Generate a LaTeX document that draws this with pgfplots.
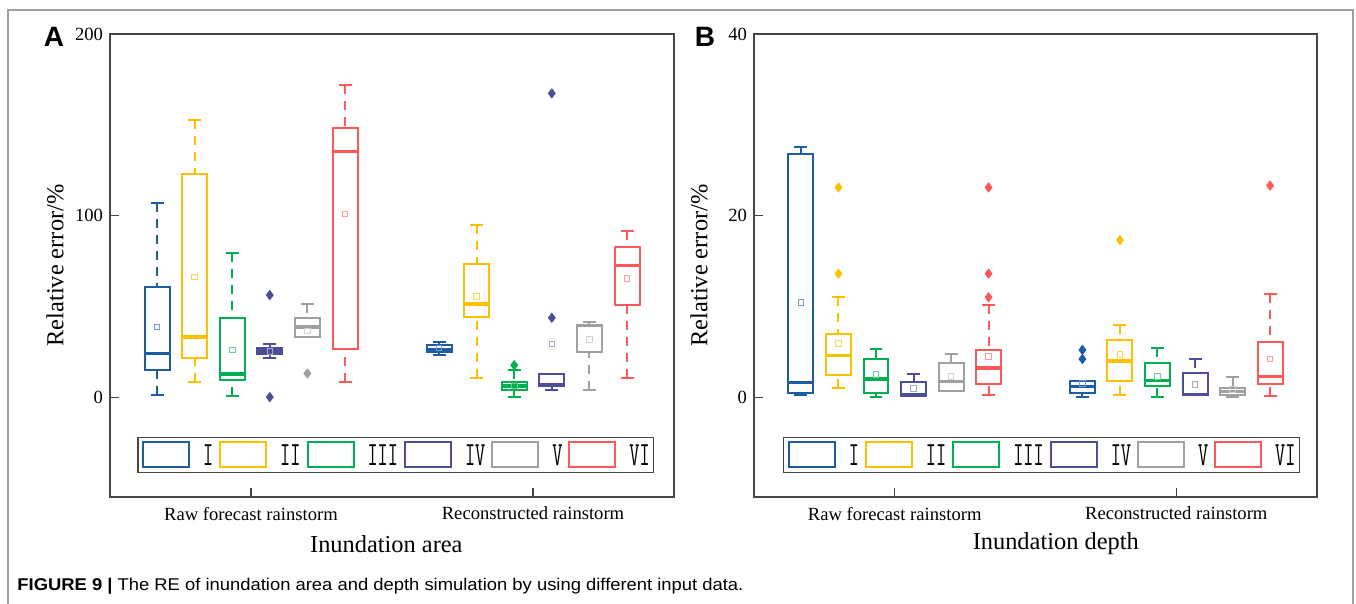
\documentclass[border=0pt]{standalone}
\usepackage{fontspec}
\setmainfont{Liberation Serif}
\setsansfont{Liberation Sans}
\usepackage{graphicx}
\usepackage{pgfplots}
\pgfplotsset{compat=1.18}
\usepgfplotslibrary{statistics}

\definecolor{cI}{RGB}{28,92,160}
\definecolor{cII}{RGB}{255,192,0}
\definecolor{cIII}{RGB}{0,176,80}
\definecolor{cIV}{RGB}{78,78,150}
\definecolor{cV}{RGB}{160,160,160}
\definecolor{cVI}{RGB}{255,88,88}
\definecolor{axgray}{RGB}{70,70,70}

% roman numerals of the legend: tall, narrow
\newcommand{\rn}[1]{\scalebox{0.58}[1]{\fontsize{17}{17}\selectfont\ttfamily #1}}

% one prepared box: position, colour, lower whisker, Q1, median, Q3, upper whisker
\newcommand{\bx}[7]{\addplot[#2, forget plot, boxplot prepared={draw position=#1,
  lower whisker=#3, lower quartile=#4, median=#5, upper quartile=#6, upper whisker=#7}]
  coordinates {};}

\pgfplotsset{
  myax/.style={
    scale only axis,
    xmin=0, xmax=564,
    xtick={141,423},
    xticklabels={Raw forecast rainstorm, Reconstructed rainstorm},
    xtick pos=bottom, ytick pos=left,
    minor tick num=0,
    tick align=inside,
    major tick length=4.5pt,
    axis line style={axgray, line width=0.8pt},
    tick style={axgray, line width=0.6pt},
    tick label style={font=\fontsize{9.3}{10}\selectfont},
    xticklabel style={yshift=-1.5pt},
    /pgf/number format/assume math mode=true,
    label style={font=\fontsize{12.2}{13}\selectfont},
    ylabel={Relative error/\%},
    ylabel style={at={(axis description cs:-0.0975,0.5)}, anchor=center},
    boxplot/draw direction=y,
    boxplot/box extend=25,
    boxplot/whisker extend=13,
    boxplot/every box/.style={line width=1pt, fill=none},
    boxplot/every whisker/.style={line width=1pt},
    boxplot/every median/.style={line width=1.7pt},
    boxplot/draw/lower whisker/.code={
      \draw[/pgfplots/boxplot/every whisker/.try, dash pattern=on 4.5pt off 3.5pt]
        (boxplot box cs:\pgfplotsboxplotvalue{lower whisker},0.5) --
        (boxplot box cs:\pgfplotsboxplotvalue{lower quartile},0.5);
      \draw[/pgfplots/boxplot/every whisker/.try]
        (boxplot whisker cs:\pgfplotsboxplotvalue{lower whisker},0) --
        (boxplot whisker cs:\pgfplotsboxplotvalue{lower whisker},1);
    },
    boxplot/draw/upper whisker/.code={
      \draw[/pgfplots/boxplot/every whisker/.try, dash pattern=on 4.5pt off 3.5pt]
        (boxplot box cs:\pgfplotsboxplotvalue{upper whisker},0.5) --
        (boxplot box cs:\pgfplotsboxplotvalue{upper quartile},0.5);
      \draw[/pgfplots/boxplot/every whisker/.try]
        (boxplot whisker cs:\pgfplotsboxplotvalue{upper whisker},0) --
        (boxplot whisker cs:\pgfplotsboxplotvalue{upper whisker},1);
    },
    legend image code/.code={\draw[##1, line width=1pt, solid, fill=none] (0pt,-1pt) rectangle (23pt,11.5pt);},
    legend columns=6,
    legend style={anchor=south, draw=axgray, line width=0.6pt, fill=white,
      inner xsep=2pt, inner ysep=2pt,
      nodes={inner sep=0pt, anchor=base},
      /tikz/every odd column/.append style={column sep=6.5pt},
      /tikz/every even column/.append style={column sep=3pt}},
  },
  mean/.style={only marks, mark=square, mark size=1.4pt, line width=0.5pt, forget plot},
  outl/.style={only marks, mark=diamond*, mark size=2.3pt, forget plot},
}

\begin{document}
\begin{tikzpicture}
\path[use as bounding box] (0pt,0pt) rectangle (678pt,302pt);
\draw[gray!75, line width=0.6pt] (4pt,0pt) -- (4pt,297pt) -- (676.5pt,297pt) -- (676.5pt,0pt);

% ---------------- panel A ----------------
\begin{axis}[myax, at={(55pt,53.5pt)}, anchor=south west, width=282pt, height=231.5pt,
  ymin=-55, ymax=200, ytick={0,100,200},
  xlabel={Inundation area},
  xlabel style={at={(axis description cs:0.49,-0.1015)}, anchor=center},
  legend style={at={(axis description cs:0.507,0.052)}}]
\addlegendimage{draw=cI}\addlegendentry{\rn{I}}
\addlegendimage{draw=cII}\addlegendentry{\rn{II}}
\addlegendimage{draw=cIII}\addlegendentry{\rn{III}}
\addlegendimage{draw=cIV}\addlegendentry{\rn{IV}}
\addlegendimage{draw=cV}\addlegendentry{\rn{V}}
\addlegendimage{draw=cVI}\addlegendentry{\rn{VI}}
% raw forecast rainstorm
\bx{47}{cI}{1.1}{14.9}{24}{60.8}{107}
\bx{84.6}{cII}{8.4}{21.7}{33.2}{122.9}{152.6}
\bx{122.2}{cIII}{0.5}{9.4}{12.7}{43.7}{79.2}
\bx{159.8}{cIV}{21.7}{23.5}{25.3}{26.8}{29.2}
\bx{197.4}{cV}{32.9}{32.9}{38.7}{43.7}{51.2}
\bx{235}{cVI}{8.4}{26.3}{135.2}{148.4}{171.9}
% reconstructed rainstorm
\bx{329}{cI}{23.1}{25}{26.3}{28.6}{30.5}
\bx{366.6}{cII}{10.8}{44.2}{51.4}{73.3}{94.8}
\bx{404.2}{cIII}{0}{3.9}{6.2}{8.4}{15.2}
\bx{441.8}{cIV}{3.9}{6.1}{7}{13}{13}
\bx{479.4}{cV}{3.9}{24.6}{39.5}{39.9}{41.6}
\bx{517}{cVI}{10.8}{51}{72.4}{82.8}{91.5}
% means
\addplot[mean, cI!60] coordinates {(47,38.7) (329,27)};
\addplot[mean, cII!70] coordinates {(84.6,66.1) (366.6,55.3)};
\addplot[mean, cIII!60] coordinates {(122.2,25.9) (404.2,6.2)};
\addplot[mean, cIV!50] coordinates {(159.8,25) (441.8,29.2)};
\addplot[mean, cV!50] coordinates {(197.4,36.4) (479.4,31.8)};
\addplot[mean, cVI!60] coordinates {(235,100.8) (517,65.4)};
% outliers
\addplot[outl, cIII] coordinates {(404.2,17.6)};
\addplot[outl, cIV] coordinates {(159.8,56.2) (159.8,0) (441.8,167.3) (441.8,43.7)};
\addplot[outl, cV] coordinates {(197.4,13)};
\end{axis}

% ---------------- panel B ----------------
\begin{axis}[myax, at={(377pt,53.5pt)}, anchor=south west, width=281.5pt, height=231.5pt,
  ymin=-11, ymax=40, ytick={0,20,40},
  xlabel={Inundation depth},
  xlabel style={at={(axis description cs:0.536,-0.1015)}, anchor=center},
  legend style={at={(axis description cs:0.511,0.052)}}]
\addlegendimage{draw=cI}\addlegendentry{\rn{I}}
\addlegendimage{draw=cII}\addlegendentry{\rn{II}}
\addlegendimage{draw=cIII}\addlegendentry{\rn{III}}
\addlegendimage{draw=cIV}\addlegendentry{\rn{IV}}
\addlegendimage{draw=cV}\addlegendentry{\rn{V}}
\addlegendimage{draw=cVI}\addlegendentry{\rn{VI}}
% raw forecast rainstorm
\bx{47}{cI}{0.2}{0.4}{1.6}{26.8}{27.5}
\bx{84.6}{cII}{1.0}{2.4}{4.6}{6.9}{11.0}
\bx{122.2}{cIII}{0}{0.4}{2.0}{4.2}{5.3}
\bx{159.8}{cIV}{0.1}{0.1}{0.3}{1.7}{2.6}
\bx{197.4}{cV}{0.7}{0.7}{1.7}{3.8}{4.8}
\bx{235}{cVI}{0.25}{1.5}{3.2}{5.2}{10.2}
% reconstructed rainstorm
\bx{329}{cI}{0}{0.4}{1.2}{1.8}{1.8}
\bx{366.6}{cII}{0.2}{1.8}{4.0}{6.3}{8.0}
\bx{404.2}{cIII}{0}{1.25}{1.8}{3.8}{5.4}
\bx{441.8}{cIV}{0.2}{0.2}{0.3}{2.7}{4.2}
\bx{479.4}{cV}{0}{0.2}{0.6}{1.06}{2.2}
\bx{517}{cVI}{0.1}{1.4}{2.3}{6.1}{11.4}
% means
\addplot[mean, cI!60] coordinates {(47,10.4) (329,1.5)};
\addplot[mean, cII!70] coordinates {(84.6,5.9) (366.6,4.7)};
\addplot[mean, cIII!60] coordinates {(122.2,2.5) (404.2,2.3)};
\addplot[mean, cIV!50] coordinates {(159.8,0.95) (441.8,1.4)};
\addplot[mean, cV!50] coordinates {(197.4,2.3) (479.4,0.85)};
\addplot[mean, cVI!60] coordinates {(235,4.5) (517,4.2)};
% outliers
\addplot[outl, cI] coordinates {(329,5.2) (329,4.2)};
\addplot[outl, cII] coordinates {(84.6,23.1) (84.6,13.6) (366.6,17.3)};
\addplot[outl, cVI] coordinates {(235,23.1) (235,13.6) (235,11.0) (517,23.3)};
\end{axis}

\node at (27pt,283.5pt) {\sffamily\bfseries\fontsize{14}{14}\selectfont A};
\node at (352.5pt,283.5pt) {\sffamily\bfseries\fontsize{14}{14}\selectfont B};
\node[anchor=west, inner sep=0pt] at (8.5pt,9pt)
  {\resizebox{363pt}{\height}{\sffamily\fontsize{8.5}{10}\selectfont\textbf{FIGURE 9 |} The RE of inundation area and depth simulation by using different input data.}};
\end{tikzpicture}
\end{document}
